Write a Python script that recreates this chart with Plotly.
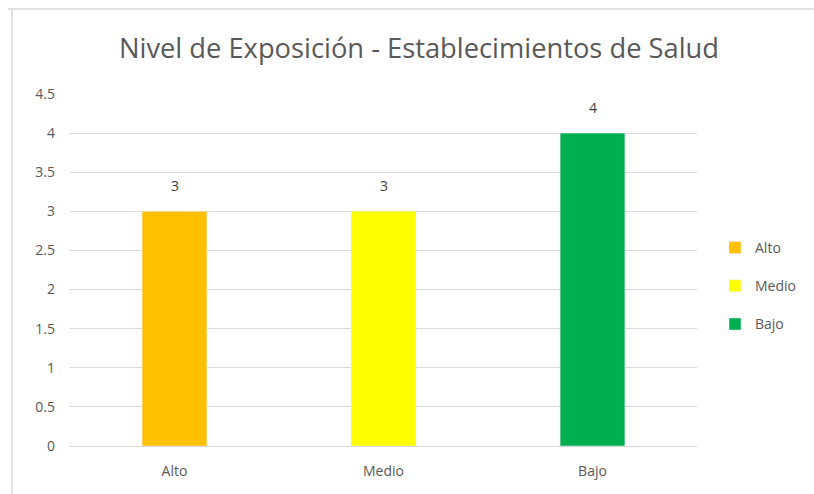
import plotly.graph_objects as go

categories = ["Alto", "Medio", "Bajo"]
values = [3, 3, 4]
colors = ["#FFC000", "#FFFF00", "#00B050"]
title = "Nivel de Exposición - Establecimientos de Salud"
y_ticks = [0, 0.5, 1, 1.5, 2, 2.5, 3, 3.5, 4, 4.5]
y_tick_labels = ["0", "0.5", "1", "1.5", "2", "2.5", "3", "3.5", "4", "4.5"]

fig = go.Figure()
for c, v, col in zip(categories, values, colors):
    fig.add_trace(go.Bar(
        x=[c], y=[v], name=c, legendgroup=c, marker_color=col, width=0.31,
        cliponaxis=False,
    ))

L, R, T, B = 70, 117, 94, 48
W, H = 814, 494
pw, ph = W - L - R, H - T - B

def px2paper_x(px):
    return (px - L) / pw

def px2paper_y(py):
    return (H - B - py) / ph

annotations = [
    dict(x=c, y=v, xref="x", yref="y", text=str(v), showarrow=False,
         yanchor="bottom", yshift=14,
         font=dict(size=14, color="#404040", family="Open Sans"))
    for c, v in zip(categories, values)
]

fig.update_layout(
    width=W, height=H,
    margin=dict(l=L, r=R, t=T, b=B, autoexpand=False),
    paper_bgcolor="white", plot_bgcolor="white",
    barmode="overlay",
    title=dict(text=title, x=px2paper_x(419), xref="paper", xanchor="center",
               y=1 - 48 / H, yanchor="middle",
               font=dict(size=27.3, color="#595959", family="Open Sans")),
    font=dict(family="Open Sans", color="#595959", size=13),
    xaxis=dict(categoryorder="array", categoryarray=categories, showgrid=False,
               showline=True, linecolor="#D9D9D9", linewidth=1, ticks="",
               ticklabelstandoff=12,
               tickfont=dict(size=14, color="#595959"), fixedrange=True),
    yaxis=dict(range=[0, 4.5], tickvals=y_ticks, ticktext=y_tick_labels,
               showgrid=True, gridcolor="#D9D9D9", gridwidth=1, zeroline=False,
               showline=False, ticks="", ticklabelstandoff=14,
               tickfont=dict(size=14, color="#595959")),
    legend=dict(x=px2paper_x(715), y=px2paper_y(232), xanchor="left", yanchor="top",
                font=dict(size=14, color="#595959"), itemwidth=30,
                tracegroupgap=17, bgcolor="rgba(0,0,0,0)"),
    bargap=0.69,
    showlegend=True,
    annotations=annotations,
    shapes=[
        dict(type="line", xref="paper", yref="paper",
             x0=px2paper_x(12), x1=px2paper_x(12), y0=px2paper_y(9), y1=px2paper_y(500),
             line=dict(color="#D9D9D9", width=1.5)),
        dict(type="line", xref="paper", yref="paper",
             x0=px2paper_x(8), x1=px2paper_x(820), y0=px2paper_y(9), y1=px2paper_y(9),
             line=dict(color="#D9D9D9", width=1.5)),
    ],
)

fig.write_html("out.html")
